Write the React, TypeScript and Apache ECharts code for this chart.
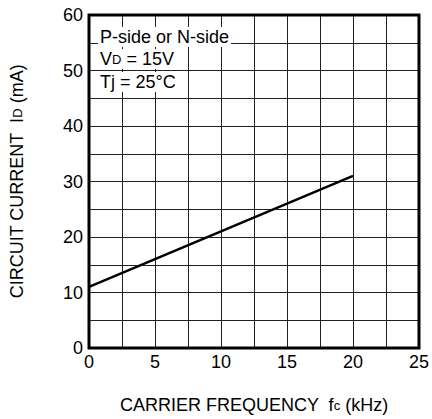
import React, { useEffect, useRef } from "react";
import * as echarts from "echarts";

const frequencyKHz = [0, 5, 10, 15, 20];
const currentMA = [11, 16, 21, 26, 31];
const conditionLines = ["P-side or N-side", "{a|V}{s|D}{a| = 15V}", "{a|Tj = 25°C}"];

const FONT = "'Liberation Sans', Arial, Helvetica, sans-serif";

export default function App() {
  const ref = useRef<HTMLDivElement>(null);
  useEffect(() => {
    if (!ref.current) return;
    const chart = echarts.init(ref.current, undefined, { renderer: "svg" });
    const rich = {
      a: { fontSize: 18, fontFamily: FONT, color: "#000" },
      s: { fontSize: 13, fontFamily: FONT, color: "#000" },
    };
    const lineYs = [38, 60, 83];
    chart.setOption({
      animation: false,
      backgroundColor: "#fff",
      grid: {
        left: 87,
        right: 11,
        top: 15,
        bottom: 71,
        show: true,
        borderColor: "#000",
        borderWidth: 3,
        backgroundColor: "transparent",
        z: 5,
      },
      xAxis: {
        type: "value",
        min: 0,
        max: 25,
        interval: 2.5,
        name: "{a|CARRIER FREQUENCY  f}{s|c}{a| (kHz)}",
        nameLocation: "middle",
        nameGap: 48,
        nameTextStyle: { rich },
        axisLine: { show: false },
        axisTick: { show: false },
        axisLabel: {
          fontSize: 18,
          fontFamily: FONT,
          color: "#000",
          margin: 5,
          formatter: (v: number) => (v % 5 === 0 ? String(v) : ""),
        },
        splitLine: { show: true, lineStyle: { color: "#222", width: 1 } },
      },
      yAxis: {
        type: "value",
        min: 0,
        max: 60,
        interval: 5,
        name: "{a|CIRCUIT CURRENT  I}{s|D}{a| (mA)}",
        nameLocation: "middle",
        nameGap: 63,
        nameRotate: 90,
        nameTextStyle: { rich },
        axisLine: { show: false },
        axisTick: { show: false },
        axisLabel: {
          fontSize: 18,
          fontFamily: FONT,
          color: "#000",
          margin: 6,
          formatter: (v: number) => (v % 10 === 0 ? String(v) : ""),
        },
        splitLine: { show: true, lineStyle: { color: "#222", width: 1 } },
      },
      series: [
        {
          type: "line",
          data: frequencyKHz.map((x, i) => [x, currentMA[i]]),
          symbol: "none",
          lineStyle: { color: "#000", width: 2.5 },
          z: 3,
        },
      ],
      graphic: conditionLines.map((t, i) => ({
        type: "text",
        left: 98,
        top: lineYs[i] - 11,
        z: 10,
        style: {
          text: t,
          rich,
          font: `18px ${FONT}`,
          fill: "#000",
          backgroundColor: "#fff",
          padding: [1, 2, 1, 2],
        },
      })),
    });
    return () => chart.dispose();
  }, []);
  return <div ref={ref} style={{ width: 432, height: 419, position: "absolute", left: 0, top: 0 }} />;
}
